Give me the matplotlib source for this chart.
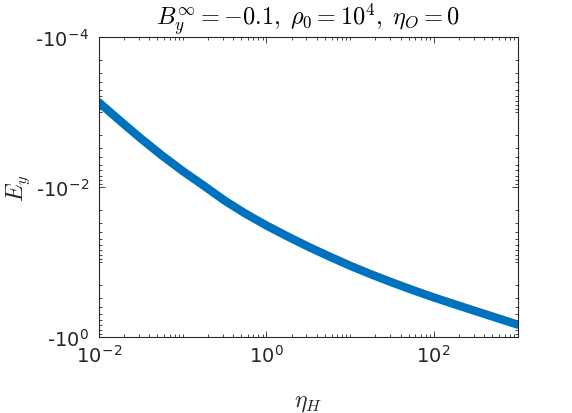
import numpy as np
import matplotlib
matplotlib.use("Agg")
import matplotlib.pyplot as plt
from matplotlib.ticker import FixedLocator, LogLocator, FuncFormatter, NullFormatter

# dados
eta_H = [0.01, 0.0178, 0.0316, 0.0562, 0.1, 0.178, 0.316, 0.562, 1.0, 1.78,
         3.16, 5.62, 10.0, 17.8, 31.6, 56.2, 100.0, 178.0, 316.0, 562.0, 1000.0]
E_y = [-7.41e-4, -1.30e-3, -2.24e-3, -3.76e-3, -6.10e-3, -9.55e-3, -0.0151,
       -0.0226, -0.0325, -0.0454, -0.0624, -0.0841, -0.112, -0.146, -0.187,
       -0.237, -0.297, -0.367, -0.452, -0.556, -0.684]

x_ticks = [1e-2, 1e0, 1e2]
y_ticks = [1e-4, 1e-2, 1e0]

titulo = r"$B_y^\infty = -0.1,\;\rho_0 = 10^4,\;\eta_O = 0$"

plt.rcParams["mathtext.fontset"] = "cm"
plt.rcParams["mathtext.default"] = "it"
plt.rcParams["axes.unicode_minus"] = False
cinza = "#262626"
azul = "#0072BD"

fig = plt.figure(figsize=(5.72, 4.14), dpi=100)
ax = fig.add_axes([0.173, 0.1836, 0.732, 0.724])

# eixo y em magnitude, invertido (topo = -1e-4)
ax.plot(eta_H, -np.array(E_y), color=azul, lw=6,
        solid_capstyle="round", solid_joinstyle="round")

ax.set_xscale("log")
ax.set_yscale("log")
ax.set_xlim(1e-2, 1e3)
ax.set_ylim(1e0, 1e-4)

ax.xaxis.set_major_locator(FixedLocator(x_ticks))
ax.yaxis.set_major_locator(FixedLocator(y_ticks))
ax.xaxis.set_minor_locator(LogLocator(base=10, subs=np.arange(1, 10), numticks=50))
ax.yaxis.set_minor_locator(LogLocator(base=10, subs=np.arange(1, 10), numticks=50))
ax.xaxis.set_minor_formatter(NullFormatter())
ax.yaxis.set_minor_formatter(NullFormatter())
ax.xaxis.set_major_formatter(FuncFormatter(
    lambda v, p: r"10$^{\mathregular{%d}}$" % round(np.log10(v))))
ax.yaxis.set_major_formatter(FuncFormatter(
    lambda v, p: r"-10$^{\mathregular{%d}}$" % round(np.log10(v))))

ax.tick_params(which="both", direction="in", top=True, right=True,
               color=cinza, labelcolor=cinza, width=0.6)
ax.tick_params(which="major", length=4, labelsize=14, pad=5)
ax.tick_params(which="minor", length=2.5)
ax.tick_params(axis="y", which="major", pad=7)
for s in ax.spines.values():
    s.set_color(cinza)
    s.set_linewidth(0.8)

ax.set_title(titulo, fontsize=17.5, color="black", pad=3)
ax.set_xlabel(r"$\eta_H$", fontsize=17, color=cinza)
ax.set_ylabel(r"$E_y$", fontsize=17, color=cinza)
ax.xaxis.set_label_coords(0.5, -0.175)
ax.yaxis.set_label_coords(-0.16, 0.5)

fig.savefig("out.png", dpi=100)
